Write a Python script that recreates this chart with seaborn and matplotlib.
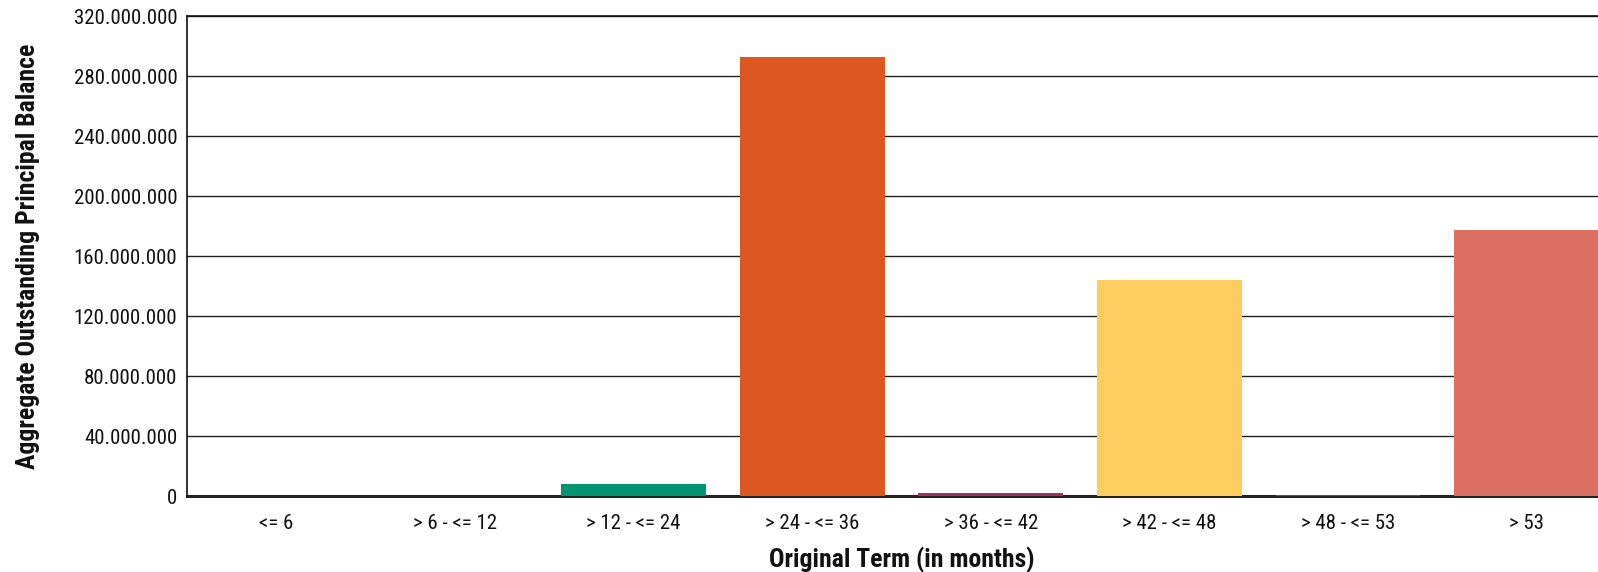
import numpy as np
import pandas as pd
import matplotlib
matplotlib.use("Agg")
import matplotlib.pyplot as plt
from matplotlib.ticker import FuncFormatter, FixedLocator
import seaborn as sns

# Data
terms = ["<= 6", "> 6 - <= 12", "> 12 - <= 24", "> 24 - <= 36",
         "> 36 - <= 42", "> 42 - <= 48", "> 48 - <= 53", "> 53"]
balance = [150000, 200000, 8000000, 292900000, 2200000, 144000000, 700000, 177300000]
colors = ["#2B2B2B", "#2B2B2B", "#009473", "#DD5820",
          "#A4305F", "#FDCD60", "#236C7F", "#DA6F62"]

df = pd.DataFrame({"term": terms, "balance": balance})

sns.set_style("white")
plt.rcParams["font.family"] = ["Roboto Condensed", "DejaVu Sans"]
plt.rcParams["font.stretch"] = "condensed"

fig = plt.figure(figsize=(15.98, 5.72), dpi=100)
# axes runs past the right edge of the figure, as in the reference
ax = fig.add_axes([187 / 1598, 76 / 572, 1429 / 1598, 480 / 572])

sns.barplot(data=df, x="term", y="balance", hue="term", palette=colors,
            legend=False, width=0.81, saturation=1, linewidth=0, ax=ax, zorder=3)

ax.set_ylim(0, 320000000)
ax.set_yticks(np.arange(0, 320000001, 40000000))
ax.yaxis.set_major_formatter(FuncFormatter(lambda v, p: f"{int(v):,}".replace(",", ".")))
ax.grid(axis="y", color="#222222", linewidth=1.0, zorder=0)
ax.set_axisbelow(True)

ax.set_xlim(-0.5, len(terms) - 0.5)
ax.xaxis.set_minor_locator(FixedLocator(np.arange(0.5, len(terms) - 0.5, 1)))
ax.tick_params(axis="x", which="major", length=0, pad=13, labelsize=15, colors="#111111")
ax.tick_params(axis="x", which="minor", direction="in", length=4, width=0.9, color="#333333")
ax.tick_params(axis="y", which="major", direction="out", length=3, width=0.9,
               labelsize=15, colors="#111111", pad=4)

for side in ["left", "top", "right"]:
    ax.spines[side].set_color("#111111")
    ax.spines[side].set_linewidth(1.2)
ax.spines["bottom"].set_color("#222222")
ax.spines["bottom"].set_linewidth(2.2)
ax.spines["bottom"].set_zorder(2)

ax.set_xlabel("Original Term (in months)", fontsize=18.5, fontweight="bold",
              color="#111111", labelpad=10)
ax.set_ylabel("Aggregate Outstanding Principal Balance", fontsize=18.5,
              fontweight="bold", color="#111111", labelpad=24)

fig.savefig("out.png", dpi=100)
